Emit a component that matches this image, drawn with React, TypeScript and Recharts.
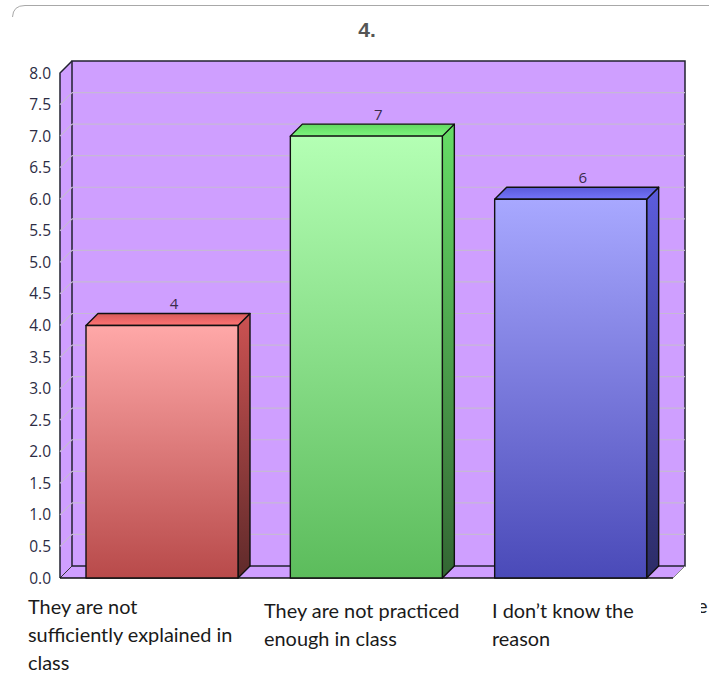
import React from "react";
import { BarChart, Bar, XAxis, YAxis, CartesianGrid, LabelList, usePlotArea } from "recharts";

const categories = ["They are not sufficiently explained in class", "They are not practiced enough in class", "I don\u2019t know the reason"];
const values = [4, 7, 6];
const yTicks = [0, 0.5, 1, 1.5, 2, 2.5, 3, 3.5, 4, 4.5, 5, 5.5, 6, 6.5, 7, 7.5, 8];
const categoryLines = [
  ["They are not", "sufficiently explained in", "class"],
  ["They are not practiced", "enough in class"],
  ["I don\u2019t know the", "reason"],
];
const categoryLeft = [28, 264, 492];
const categoryTop = [608, 612, 612];
const frontTop = ["#ffa8a8", "#b4ffb4", "#a8a8ff"];
const frontBottom = ["#b84a4a", "#5cbc5c", "#4a4ab8"];
const sideTop = ["#cc5252", "#66dd66", "#5c5cdd"];
const sideBottom = ["#5f2a2a", "#336633", "#2c2c66"];
const topBack = ["#d85a5a", "#62d862", "#5a5ad8"];
const topFront = ["#ff7474", "#7cf47c", "#7474fa"];

const DEPTH = 12;
const data = categories.map((name, i) => ({ name, value: values[i] }));

const Walls = () => {
  const p = usePlotArea();
  if (!p) return null;
  const { x, y, width: w, height: h } = p;
  const b = y + h;
  const r = x + w;
  return (
    <g>
      <rect x={x + DEPTH} y={y - DEPTH} width={w} height={h} fill="#cf9fff" />
      <polygon points={`${x},${y} ${x + DEPTH},${y - DEPTH} ${x + DEPTH},${b - DEPTH} ${x},${b}`} fill="#cf9fff" />
      <polygon points={`${x},${b} ${x + DEPTH},${b - DEPTH} ${r + DEPTH},${b - DEPTH} ${r},${b}`} fill="#cf9fff" />
      <rect x={x + DEPTH} y={y - DEPTH} width={w} height={h} fill="none" stroke="#222230" strokeWidth={1.5} />
      <path d={`M${x},${b} L${x},${y} L${x + DEPTH},${y - DEPTH}`} fill="none" stroke="#222230" strokeWidth={1.5} />
      <path d={`M${x},${b} L${x + DEPTH},${b - DEPTH}`} fill="none" stroke="#333" strokeWidth={1} />
      <path d={`M${r},${b} L${r + DEPTH},${b - DEPTH}`} fill="none" stroke="#888" strokeWidth={1} />
      <path d={`M${x},${b} L${r},${b}`} fill="none" stroke="#111" strokeWidth={1.5} />
    </g>
  );
};

const Frame = () => (
  <g>
    <path d="M12.5,17 Q13,5.5 25,5.5 L709,5.5" fill="none" stroke="#a8a8a8" strokeWidth={1} />
    <text x={367} y={37} textAnchor="middle" fontFamily="'Liberation Sans', Arial, sans-serif" fontWeight={700} fontSize={21} fill="#555">4.</text>
    <clipPath id="edgeClip"><rect x={701} y={595} width={8} height={25} /></clipPath>
    <text x={697} y={613} clipPath="url(#edgeClip)" fontFamily="'Lato', sans-serif" fontSize={20} fill="#222">e</text>
  </g>
);

const gridLine = (props: any) => {
  const { x1, x2, y1, index } = props;
  const top = props.offset ? props.offset.top : 73;
  if (y1 === undefined || y1 <= top + 1 || y1 >= top + 504) return <g key={`g${index}`} />;
  return (
    <g key={`g${index}`} stroke="#c6b8d6" strokeWidth={1.2} fill="none">
      <line x1={x1 + DEPTH} x2={x2 + DEPTH} y1={y1 - DEPTH} y2={y1 - DEPTH} />
      <line x1={x1} x2={x1 + DEPTH} y1={y1} y2={y1 - DEPTH} />
    </g>
  );
};

const Cuboid = (props: any) => {
  const { x, y, width, height, index } = props;
  const d = DEPTH;
  const b = y + height;
  const r = x + width;
  return (
    <g stroke="#111" strokeWidth={1.4} strokeLinejoin="round">
      <polygon points={`${r},${y} ${r + d},${y - d} ${r + d},${b - d} ${r},${b}`} fill={`url(#side${index})`} />
      <polygon points={`${x},${y} ${x + d},${y - d} ${r + d},${y - d} ${r},${y}`} fill={`url(#top${index})`} />
      <rect x={x} y={y} width={width} height={height} fill={`url(#front${index})`} />
    </g>
  );
};

const barLabel = (props: any) => {
  const { x, y, width, value } = props;
  return (
    <text x={x + width / 2 + DEPTH} y={y - DEPTH - 4.5} textAnchor="middle" fontFamily="'Open Sans', sans-serif" fontSize={15} fill="#3a2c4c">{value}</text>
  );
};

const CategoryTick = (props: any) => {
  const { payload } = props;
  const i = payload.index;
  return (
    <g>
      {categoryLines[i].map((line, k) => (
        <text key={k} x={categoryLeft[i]} y={categoryTop[i] + 6 + k * 28} fontFamily="'Lato', sans-serif" fontSize={19.9} fill="#1a1a1a">{line}</text>
      ))}
    </g>
  );
};

export default function App() {
  return (
    <div style={{ position: "absolute", left: 0, top: 0, width: 709, height: 683, background: "#fff" }}>
      <BarChart width={709} height={683} data={data} margin={{ top: 73, right: 36, bottom: 0, left: 0 }}>
        <defs>
          {values.map((_, i) => (
            <React.Fragment key={i}>
              <linearGradient id={`front${i}`} x1="0" y1="0" x2="0" y2="1">
                <stop offset="0%" stopColor={frontTop[i]} />
                <stop offset="100%" stopColor={frontBottom[i]} />
              </linearGradient>
              <linearGradient id={`side${i}`} x1="0" y1="0" x2="0" y2="1">
                <stop offset="0%" stopColor={sideTop[i]} />
                <stop offset="100%" stopColor={sideBottom[i]} />
              </linearGradient>
              <linearGradient id={`top${i}`} x1="0" y1="0" x2="0" y2="1">
                <stop offset="0%" stopColor={topBack[i]} />
                <stop offset="100%" stopColor={topFront[i]} />
              </linearGradient>
            </React.Fragment>
          ))}
        </defs>
        <Frame />
        <Walls />
        <CartesianGrid vertical={false} horizontal={gridLine} zIndex={1} />
        <XAxis dataKey="name" height={105} axisLine={false} tickLine={false} interval={0} tick={<CategoryTick />} />
        <YAxis
          width={60}
          domain={[0, 8]}
          ticks={yTicks}
          interval={0}
          axisLine={false}
          tickLine={false}
          tickMargin={3}
          tickFormatter={(v: number) => v.toFixed(1)}
          tick={{ fontFamily: "'Open Sans', sans-serif", fontSize: 15.5, fill: "#2c2c44" }}
        />
        <Bar dataKey="value" barSize={152} shape={<Cuboid />} isAnimationActive={false}>
          <LabelList dataKey="value" content={barLabel} />
        </Bar>
      </BarChart>
    </div>
  );
}
